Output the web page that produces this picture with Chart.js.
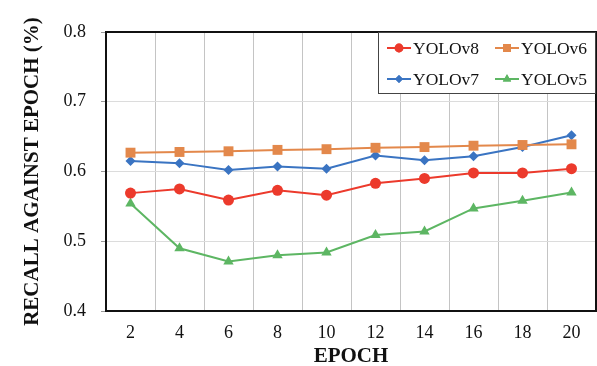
<!DOCTYPE html>
<html lang="en">
<head>
  <meta charset="UTF-8">
  <title>Recall against epoch</title>
  <script src="https://cdn.jsdelivr.net/npm/chart.js"></script>
  <style>
    html, body { margin: 0; padding: 0; background: #fff; }
    #wrap { width: 597px; height: 366px; }
  </style>
</head>
<body>
  <div id="wrap"><canvas id="recallChart" width="597" height="366"></canvas></div>

  <script>
    const epochs = ["2", "4", "6", "8", "10", "12", "14", "16", "18", "20"];
    const yolov8 = [0.569, 0.575, 0.559, 0.573, 0.566, 0.583, 0.590, 0.598, 0.598, 0.604];
    const yolov6 = [0.627, 0.628, 0.629, 0.631, 0.632, 0.634, 0.635, 0.637, 0.638, 0.639];
    const yolov7 = [0.615, 0.612, 0.602, 0.607, 0.604, 0.623, 0.616, 0.622, 0.635, 0.652];
    const yolov5 = [0.554, 0.490, 0.471, 0.480, 0.484, 0.509, 0.514, 0.547, 0.558, 0.570];
    const yTicks = [0.4, 0.5, 0.6, 0.7, 0.8];

    const serif = "'Liberation Serif', 'Times New Roman', serif";

    // legend drawn inside the plot, two columns like the original
    const boxLegend = {
      id: "boxLegend",
      afterDraw(chart) {
        const ctx = chart.ctx;
        const area = chart.chartArea;
        const x0 = 378, y0 = area.top, w = area.right - 378, h = 62;
        ctx.save();
        ctx.fillStyle = "#fff";
        ctx.fillRect(x0, y0, w, h);
        ctx.strokeStyle = "#444";
        ctx.lineWidth = 1;
        ctx.strokeRect(x0 + 0.5, y0 + 0.5, w - 1, h - 1);
        const spots = [[387, 48], [495, 48], [387, 79], [495, 79]];
        spots.forEach((spot, k) => {
          const ds = chart.data.datasets[k];
          const [lx, ly] = spot;
          ctx.strokeStyle = ds.borderColor;
          ctx.lineWidth = 2;
          ctx.beginPath();
          ctx.moveTo(lx, ly);
          ctx.lineTo(lx + 24, ly);
          ctx.stroke();
          ctx.fillStyle = ds.borderColor;
          Chart.helpers.drawPoint(ctx, {
            pointStyle: ds.pointStyle,
            radius: ds.pointRadius * 0.8,
            borderWidth: 0
          }, lx + 12, ly);
          ctx.fill();
          ctx.fillStyle = "#111";
          ctx.font = "17.5px " + serif;
          ctx.textBaseline = "middle";
          ctx.fillText(ds.label, lx + 26, ly + 1);
        });
        ctx.restore();
      }
    };

    const frame = {
      id: "frame",
      afterDatasetsDraw(chart) {
        const a = chart.chartArea;
        const ctx = chart.ctx;
        ctx.save();
        ctx.strokeStyle = "#111";
        ctx.lineWidth = 2;
        ctx.strokeRect(a.left, a.top, a.right - a.left, a.bottom - a.top);
        ctx.restore();
      }
    };

    function series(label, data, color, style, r) {
      return {
        label: label,
        data: data,
        borderColor: color,
        backgroundColor: color,
        borderWidth: 2,
        pointStyle: style,
        pointRadius: r,
        pointHoverRadius: r,
        pointBorderWidth: 0,
        tension: 0
      };
    }

    new Chart(document.getElementById("recallChart"), {
      type: "line",
      data: {
        labels: epochs,
        datasets: [
          series("YOLOv8", yolov8, "#ec3a2c", "circle", 5.5),
          series("YOLOv6", yolov6, "#e3884b", "rect", 7),
          series("YOLOv7", yolov7, "#3a74c2", "rectRot", 5),
          series("YOLOv5", yolov5, "#5db663", "triangle", 6)
        ]
      },
      options: {
        responsive: false,
        animation: false,
        layout: { autoPadding: false, padding: { top: 32, right: 1, left: 0, bottom: 0 } },
        plugins: {
          legend: { display: false },
          tooltip: { enabled: false }
        },
        scales: {
          x: {
            offset: true,
            grid: { offset: true, color: "#c4c4c4", drawTicks: false },
            border: { color: "#111", width: 2 },
            ticks: { color: "#111", font: { family: serif, size: 18 }, padding: 11, maxRotation: 0 },
            title: {
              display: true,
              text: "EPOCH",
              color: "#111",
              font: { family: serif, size: 21, weight: "bold" },
              padding: { top: 0, bottom: -3 }
            },
            afterFit(axis) { axis.height = 55; }
          },
          y: {
            min: 0.4,
            max: 0.8,
            afterBuildTicks(axis) { axis.ticks = yTicks.map(v => ({ value: v })); },
            grid: { color: "#dcdcdc", tickLength: 5, tickColor: "#999" },
            border: { color: "#111", width: 2 },
            ticks: {
              color: "#111",
              font: { family: serif, size: 18 },
              padding: 15,
              callback: v => v.toFixed(1)
            },
            title: {
              display: true,
              text: "RECALL AGAINST EPOCH (%)",
              color: "#111",
              font: { family: serif, size: 21, weight: "bold" },
              padding: { top: 20, bottom: 0 }
            },
            afterFit(axis) { axis.width = 106; }
          }
        }
      },
      plugins: [frame, boxLegend]
    });
  </script>
</body>
</html>
